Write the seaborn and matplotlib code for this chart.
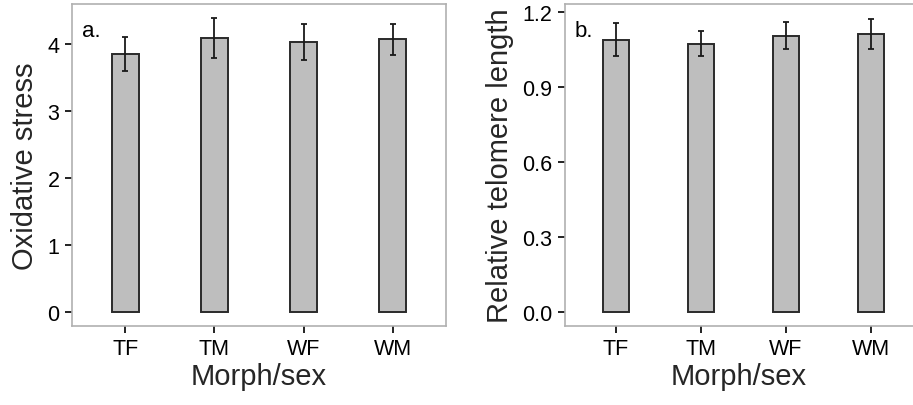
import matplotlib
matplotlib.use("Agg")
import matplotlib.pyplot as plt
import seaborn as sns
import pandas as pd
import numpy as np

categories = ["TF", "TM", "WF", "WM"]
oxidative_mean = [3.855, 4.09, 4.025, 4.07]
oxidative_se = [0.255, 0.30, 0.27, 0.23]
telomere_mean = [1.088, 1.073, 1.105, 1.113]
telomere_se = [0.067, 0.050, 0.053, 0.060]
telomere_ticks = [0.0, 0.3, 0.6, 0.9, 1.2]
oxidative_ticks = [0, 1, 2, 3, 4]

sns.set_theme(style="white")
plt.rcParams['font.family'] = ['Liberation Sans', 'DejaVu Sans']

fig = plt.figure(figsize=(9.13, 4.06), dpi=100)
ax_a = fig.add_axes([72/913, 79/406, 374/913, 322/406])
ax_b = fig.add_axes([565/913, 79/406, 348/913, 322/406])

frame_col = "#b0b0b0"
bar_fill = "#bebebe"
edge = "#2a2a2a"

def draw(ax, means, ses, ylabel, ylim, yticks, ylabels, xlim, letter, hide_right=False):
    df = pd.DataFrame({"group": categories, "value": means})
    sns.barplot(data=df, x="group", y="value", order=categories, color=bar_fill,
                width=0.3, edgecolor=edge, linewidth=1.4, errorbar=None, ax=ax,
                saturation=1)
    ax.errorbar(np.arange(len(categories)), means, yerr=ses, fmt="none",
                ecolor="#1a1a1a", elinewidth=1.3, capsize=2.5, capthick=1.3, zorder=5)
    ax.set_xlim(*xlim)
    ax.set_ylim(*ylim)
    ax.set_yticks(yticks)
    ax.set_yticklabels(ylabels)
    ax.set_xlabel("Morph/sex", fontsize=21, labelpad=2)
    ax.set_ylabel(ylabel, fontsize=21, labelpad=6)
    ax.tick_params(axis="both", which="major", length=5, width=1.4, color="#222222",
                   labelsize=15.5, labelcolor="black", pad=4, bottom=True, left=True)
    for s in ax.spines.values():
        s.set_color(frame_col)
        s.set_linewidth(1.2)
    if hide_right:
        ax.spines["right"].set_visible(False)
    ax.text(0.028, 0.90, letter, transform=ax.transAxes, fontsize=16, color="black",
            ha="left", va="baseline")
    ax.set_facecolor("white")

draw(ax_a, oxidative_mean, oxidative_se, "Oxidative stress", (-0.209, 4.597),
     oxidative_ticks, [str(t) for t in oxidative_ticks], (-0.6, 3.6), "a.")
draw(ax_b, telomere_mean, telomere_se, "Relative telomere length", (-0.057, 1.231),
     telomere_ticks, [f"{t:.1f}" for t in telomere_ticks], (-0.6, 3.494), "b.",
     hide_right=True)

fig.savefig("out.png", dpi=100)
